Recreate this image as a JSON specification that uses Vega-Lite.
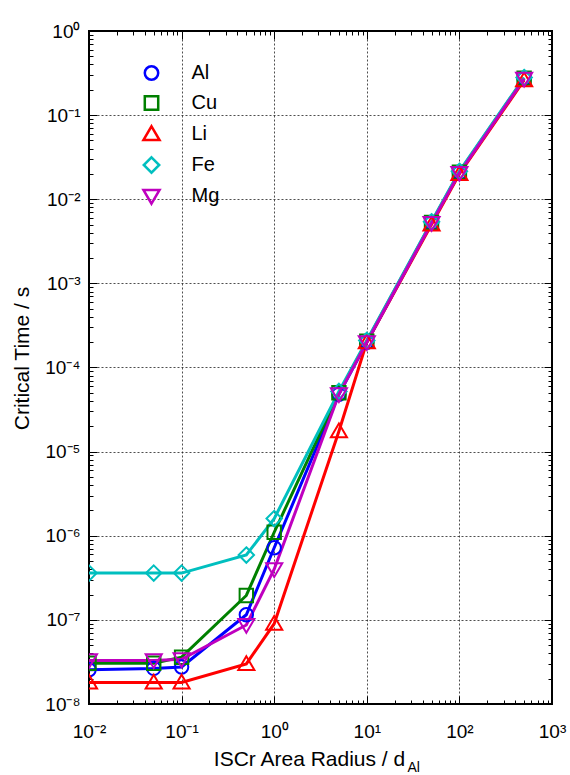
{
  "$schema": "https://vega.github.io/schema/vega-lite/v6.json",
  "width": 463,
  "height": 673,
  "autosize": {"type": "none"},
  "padding": {"left": 89, "top": 31, "right": 18, "bottom": 71},
  "background": "white",
  "config": {
    "font": "Liberation Sans",
    "view": {"stroke": "#000000", "strokeWidth": 2},
    "axis": {"domain": false, "tickColor": "#000000", "tickWidth": 1, "labelColor": "#000000", "titleColor": "#000000", "titleFontWeight": "normal", "labelFont": "Liberation Sans", "titleFont": "Liberation Sans"},
    "legend": {
      "orient": "none",
      "legendX": 52.5,
      "legendY": 32,
      "padding": 0,
      "symbolSize": 180,
      "symbolStrokeWidth": 2.5,
      "labelFontSize": 20,
      "labelOffset": 30,
      "rowPadding": 6,
      "labelColor": "#000000",
      "labelFont": "Liberation Sans"
    }
  },
  "data": {
    "values": [
      {"el": "Al", "r": 0.01, "t": 2.55e-8}, {"el": "Al", "r": 0.05, "t": 2.65e-8}, {"el": "Al", "r": 0.1, "t": 2.75e-8}, {"el": "Al", "r": 0.5, "t": 1.15e-7}, {"el": "Al", "r": 1, "t": 7.2e-7}, {"el": "Al", "r": 5, "t": 4.8e-5}, {"el": "Al", "r": 10, "t": 2.0e-4}, {"el": "Al", "r": 50, "t": 5.2e-3}, {"el": "Al", "r": 100, "t": 2.05e-2}, {"el": "Al", "r": 500, "t": 0.27},
      {"el": "Cu", "r": 0.01, "t": 3.05e-8}, {"el": "Cu", "r": 0.05, "t": 3.05e-8}, {"el": "Cu", "r": 0.1, "t": 3.6e-8}, {"el": "Cu", "r": 0.5, "t": 1.95e-7}, {"el": "Cu", "r": 1, "t": 1.1e-6}, {"el": "Cu", "r": 5, "t": 5.0e-5}, {"el": "Cu", "r": 10, "t": 2.05e-4}, {"el": "Cu", "r": 50, "t": 5.3e-3}, {"el": "Cu", "r": 100, "t": 2.1e-2}, {"el": "Cu", "r": 500, "t": 0.275},
      {"el": "Li", "r": 0.01, "t": 1.8e-8}, {"el": "Li", "r": 0.05, "t": 1.8e-8}, {"el": "Li", "r": 0.1, "t": 1.8e-8}, {"el": "Li", "r": 0.5, "t": 3.0e-8}, {"el": "Li", "r": 1, "t": 9.0e-8}, {"el": "Li", "r": 5, "t": 1.75e-5}, {"el": "Li", "r": 10, "t": 2.0e-4}, {"el": "Li", "r": 50, "t": 5.0e-3}, {"el": "Li", "r": 100, "t": 2.0e-2}, {"el": "Li", "r": 500, "t": 0.26},
      {"el": "Fe", "r": 0.01, "t": 3.6e-7}, {"el": "Fe", "r": 0.05, "t": 3.6e-7}, {"el": "Fe", "r": 0.1, "t": 3.6e-7}, {"el": "Fe", "r": 0.5, "t": 5.9e-7}, {"el": "Fe", "r": 1, "t": 1.6e-6}, {"el": "Fe", "r": 5, "t": 5.2e-5}, {"el": "Fe", "r": 10, "t": 2.1e-4}, {"el": "Fe", "r": 50, "t": 5.4e-3}, {"el": "Fe", "r": 100, "t": 2.15e-2}, {"el": "Fe", "r": 500, "t": 0.28},
      {"el": "Mg", "r": 0.01, "t": 3.3e-8}, {"el": "Mg", "r": 0.05, "t": 3.3e-8}, {"el": "Mg", "r": 0.1, "t": 3.4e-8}, {"el": "Mg", "r": 0.5, "t": 8.7e-8}, {"el": "Mg", "r": 1, "t": 4.0e-7}, {"el": "Mg", "r": 5, "t": 4.8e-5}, {"el": "Mg", "r": 10, "t": 2.0e-4}, {"el": "Mg", "r": 50, "t": 5.2e-3}, {"el": "Mg", "r": 100, "t": 2.05e-2}, {"el": "Mg", "r": 500, "t": 0.27}
    ]
  },
  "layer": [
    {
      "layer": [
        {
          "mark": {"type": "line", "strokeWidth": 3, "clip": true},
          "encoding": {
            "x": {
              "field": "r", "type": "quantitative",
              "scale": {"type": "log", "domain": [0.01, 1000], "nice": false},
              "axis": {
                "orient": "bottom",
                "values": [0.01,0.02,0.03,0.04,0.05,0.06,0.07,0.08,0.09,0.1,0.2,0.3,0.4,0.5,0.6,0.7,0.8,0.9,1,2,3,4,5,6,7,8,9,10,20,30,40,50,60,70,80,90,100,200,300,400,500,600,700,800,900,1000],
                "tickSize": {"condition": {"test": "abs(log(datum.value)/LN10 - round(log(datum.value)/LN10)) < 0.001", "value": -8}, "value": -4},
                "grid": true,
                "gridColor": "#222222",
                "gridDash": [2, 2],
                "gridWidth": 1,
                "gridOpacity": {"condition": {"test": "abs(log(datum.value)/LN10 - round(log(datum.value)/LN10)) < 0.001 && datum.value > 0.011 && datum.value < 999", "value": 0.8}, "value": 0},
                "labelExpr": "abs(log(datum.value)/LN10 - round(log(datum.value)/LN10)) < 0.001 ? '10' + replace(replace(replace(replace(replace(replace(replace(replace(replace(replace(replace('' + round(log(datum.value)/LN10), '-', '⁻'), '0', '⁰'), '1', '¹'), '2', '²'), '3', '³'), '4', '⁴'), '5', '⁵'), '6', '⁶'), '7', '⁷'), '8', '⁸'), '9', '⁹') : ''",
                "labelFontSize": 19,
                "labelBaseline": "alphabetic",
                "labelPadding": 41,
                "labelOverlap": false,
                "labelFlush": false,
                "title": "ISCr Area Radius / d",
                "titleFontSize": 21,
                "titleX": 220,
                "titleY": 61,
                "titleAlign": "center",
                "titleBaseline": "alphabetic"
              }
            },
            "y": {
              "field": "t", "type": "quantitative",
              "scale": {"type": "log", "domain": [1e-8, 1], "nice": false},
              "axis": {
                "orient": "left",
                "values": [1e-8,2e-8,3e-8,4e-8,5e-8,6e-8,7e-8,8e-8,9e-8,1e-7,2e-7,3e-7,4e-7,5e-7,6e-7,7e-7,8e-7,9e-7,1e-6,2e-6,3e-6,4e-6,5e-6,6e-6,7e-6,8e-6,9e-6,1e-5,2e-5,3e-5,4e-5,5e-5,6e-5,7e-5,8e-5,9e-5,1e-4,2e-4,3e-4,4e-4,5e-4,6e-4,7e-4,8e-4,9e-4,1e-3,2e-3,3e-3,4e-3,5e-3,6e-3,7e-3,8e-3,9e-3,1e-2,2e-2,3e-2,4e-2,5e-2,6e-2,7e-2,8e-2,9e-2,0.1,0.2,0.3,0.4,0.5,0.6,0.7,0.8,0.9,1],
                "tickSize": {"condition": {"test": "abs(log(datum.value)/LN10 - round(log(datum.value)/LN10)) < 0.001", "value": -8}, "value": -4},
                "grid": true,
                "gridColor": "#222222",
                "gridDash": [2, 2],
                "gridWidth": 1,
                "gridOpacity": {"condition": {"test": "abs(log(datum.value)/LN10 - round(log(datum.value)/LN10)) < 0.001 && datum.value > 1.1e-8 && datum.value < 0.99", "value": 0.8}, "value": 0},
                "labelExpr": "abs(log(datum.value)/LN10 - round(log(datum.value)/LN10)) < 0.001 ? '10' + replace(replace(replace(replace(replace(replace(replace(replace(replace(replace(replace('' + round(log(datum.value)/LN10), '-', '⁻'), '0', '⁰'), '1', '¹'), '2', '²'), '3', '³'), '4', '⁴'), '5', '⁵'), '6', '⁶'), '7', '⁷'), '8', '⁸'), '9', '⁹') : ''",
                "labelFontSize": 19,
                "labelBaseline": "middle",
                "labelPadding": 17,
                "labelOverlap": false,
                "labelFlush": false,
                "title": "Critical Time / s",
                "titleFontSize": 21,
                "titleX": -67,
                "titleY": 327,
                "titleAngle": -90,
                "titleAlign": "center",
                "titleBaseline": "middle"
              }
            },
            "color": {
              "field": "el", "type": "nominal", "title": null,
              "scale": {"domain": ["Al", "Cu", "Li", "Fe", "Mg"], "range": ["#0000FF", "#008000", "#FF0000", "#00BFBF", "#BF00BF"]}
            },
            "detail": {"field": "el"}
          }
        },
        {
          "mark": {"type": "point", "filled": false, "strokeWidth": 2, "size": 180, "opacity": 1, "clip": true},
          "encoding": {
            "x": {"field": "r", "type": "quantitative"},
            "y": {"field": "t", "type": "quantitative"},
            "color": {"field": "el", "type": "nominal", "title": null},
            "shape": {
              "field": "el", "type": "nominal", "title": null,
              "scale": {"domain": ["Al", "Cu", "Li", "Fe", "Mg"], "range": [
                "M1,0A1,1 0 1,1 -1,0A1,1 0 1,1 1,0Z",
                "M-1,-1H1V1H-1Z",
                "M0,-1.15L1.2,0.9H-1.2Z",
                "M0,-1.15L1.15,0L0,1.15L-1.15,0Z",
                "M0,1.15L1.2,-0.9H-1.2Z"
              ]},
              "legend": {
                "encode": {
                  "symbols": {
                    "fill": {"value": "transparent"},
                    "strokeWidth": {"value": 2.5},
                    "shape": {"value": {"expr": "datum.value == 'Al' ? 'M-4.7,0H-1M1,0H4.7M1,0A1,1 0 1,1 -1,0A1,1 0 1,1 1,0Z' : datum.value == 'Cu' ? 'M-4.7,0H-1M1,0H4.7M-1,-1H1V1H-1Z' : datum.value == 'Li' ? 'M-4.7,0.9H-1.2M1.2,0.9H4.7M0,-1.15L1.2,0.9H-1.2Z' : datum.value == 'Fe' ? 'M-4.7,0H-1.15M1.15,0H4.7M0,-1.15L1.15,0L0,1.15L-1.15,0Z' : 'M-4.7,-0.9H-1.2M1.2,-0.9H4.7M0,1.15L1.2,-0.9H-1.2Z'"}}
                  }
                }
              }
            }
          }
        }
      ]
    },
    {
      "mark": {"type": "point", "opacity": 0},
      "encoding": {
        "x": {
          "field": "r", "type": "quantitative",
          "scale": {"type": "log", "domain": [0.01, 1000], "nice": false},
          "axis": {
            "orient": "top",
            "values": [0.01,0.02,0.03,0.04,0.05,0.06,0.07,0.08,0.09,0.1,0.2,0.3,0.4,0.5,0.6,0.7,0.8,0.9,1,2,3,4,5,6,7,8,9,10,20,30,40,50,60,70,80,90,100,200,300,400,500,600,700,800,900,1000],
            "tickSize": {"condition": {"test": "abs(log(datum.value)/LN10 - round(log(datum.value)/LN10)) < 0.001", "value": -8}, "value": -4},
            "labels": false,
            "grid": false,
            "title": "Al",
            "titleFontSize": 14,
            "titleX": 318,
            "titleY": 740,
            "titleAlign": "left",
            "titleBaseline": "alphabetic"
          }
        },
        "y": {
          "field": "t", "type": "quantitative",
          "scale": {"type": "log", "domain": [1e-8, 1], "nice": false},
          "axis": {
            "orient": "right",
            "values": [1e-8,2e-8,3e-8,4e-8,5e-8,6e-8,7e-8,8e-8,9e-8,1e-7,2e-7,3e-7,4e-7,5e-7,6e-7,7e-7,8e-7,9e-7,1e-6,2e-6,3e-6,4e-6,5e-6,6e-6,7e-6,8e-6,9e-6,1e-5,2e-5,3e-5,4e-5,5e-5,6e-5,7e-5,8e-5,9e-5,1e-4,2e-4,3e-4,4e-4,5e-4,6e-4,7e-4,8e-4,9e-4,1e-3,2e-3,3e-3,4e-3,5e-3,6e-3,7e-3,8e-3,9e-3,1e-2,2e-2,3e-2,4e-2,5e-2,6e-2,7e-2,8e-2,9e-2,0.1,0.2,0.3,0.4,0.5,0.6,0.7,0.8,0.9,1],
            "tickSize": {"condition": {"test": "abs(log(datum.value)/LN10 - round(log(datum.value)/LN10)) < 0.001", "value": -8}, "value": -4},
            "labels": false,
            "grid": false,
            "title": null
          }
        }
      }
    }
  ],
  "resolve": {"scale": {"x": "independent", "y": "independent"}}
}
